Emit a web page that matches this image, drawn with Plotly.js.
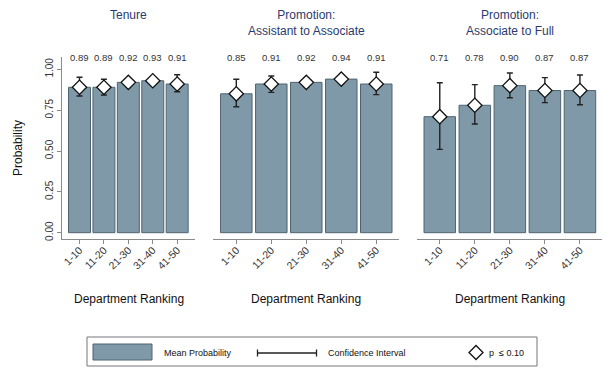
<!DOCTYPE html>
<html><head><meta charset="utf-8">
<script src="https://cdn.plot.ly/plotly-3.0.1.min.js"></script>
<style>html,body{margin:0;padding:0;background:#fff}#chart{width:613px;height:375px}</style>
</head><body><div id="chart"></div>
<script>
const categories = ['1-10','11-20','21-30','31-40','41-50'];
const panelTitles = ['Tenure','Promotion:<br>Assistant to Associate','Promotion:<br>Associate to Full'];

const tenureMean = [0.89, 0.89, 0.92, 0.93, 0.91];
const tenureHi   = [0.951, 0.939, 0.94, 0.95, 0.967];
const tenureLo   = [0.837, 0.843, 0.90, 0.91, 0.863];

const asstMean = [0.85, 0.91, 0.92, 0.94, 0.91];
const asstHi   = [0.939, 0.959, 0.945, 0.962, 0.982];
const asstLo   = [0.771, 0.859, 0.895, 0.918, 0.845];

const fullMean = [0.71, 0.78, 0.90, 0.87, 0.87];
const fullHi   = [0.918, 0.906, 0.977, 0.949, 0.965];
const fullLo   = [0.510, 0.665, 0.826, 0.796, 0.783];

const W = 613, H = 375;
const px = x => x / W;
const py = y => 1 - y / H;

const BAR = '#7f99a8', BAR_LINE = '#4f6470', AX = '#8a8a8a', TXT = '#333333', TITLE = '#2b3a6e';
const FONT = 'Liberation Sans, Arial, sans-serif';

const panels = [
  {mean: tenureMean, hi: tenureHi, lo: tenureLo, xa: 'x',  dom: [62, 195], rng: [-0.717, 4.73]},
  {mean: asstMean,   hi: asstHi,   lo: asstLo,   xa: 'x2', dom: [213, 399], rng: [-0.666, 4.65]},
  {mean: fullMean,   hi: fullHi,   lo: fullLo,   xa: 'x3', dom: [417, 602], rng: [-0.65, 4.63]}
];

const traces = [];
const annotations = [];
const layout = {
  width: W, height: H, margin: {l: 0, r: 0, t: 0, b: 0},
  paper_bgcolor: '#fff', plot_bgcolor: 'rgba(0,0,0,0)',
  showlegend: false, font: {family: FONT, color: TXT},
  yaxis: {
    domain: [py(239), py(57)], range: [-0.0386, 1.0753], anchor: 'x',
    showline: true, linecolor: AX, linewidth: 1, zeroline: false, showgrid: false,
    ticks: 'outside', ticklen: 4, tickcolor: AX,
    tickvals: [0, 0.25, 0.5, 0.75, 1], tickformat: '.2f', tickangle: -90,
    tickfont: {size: 10, color: TXT, family: FONT}
  },
  shapes: [], annotations: annotations
};

panels.forEach((p, i) => {
  const axName = i === 0 ? 'xaxis' : 'xaxis' + (i + 1);
  layout[axName] = {
    domain: [px(p.dom[0]), px(p.dom[1])], range: p.rng, anchor: 'y',
    type: 'category', categoryorder: 'array', categoryarray: categories,
    showline: true, linecolor: AX, linewidth: 1, showgrid: false, zeroline: false,
    ticks: 'outside', ticklen: 4, tickcolor: AX, tickangle: -45, ticklabelstandoff: -4,
    tickfont: {size: 10.5, color: TXT, family: FONT}
  };
  traces.push({
    type: 'bar', x: categories, y: p.mean, xaxis: p.xa, yaxis: 'y', width: 0.9,
    marker: {color: BAR, line: {color: BAR_LINE, width: 1}}, hoverinfo: 'skip'
  });
  traces.push({
    type: 'scatter', mode: 'markers', x: categories, y: p.mean, xaxis: p.xa, yaxis: 'y',
    marker: {symbol: 'diamond', size: 11, color: '#fff', line: {color: '#111', width: 1.3}},
    error_y: {type: 'data', symmetric: false,
      array: p.hi.map((h, k) => h - p.mean[k]),
      arrayminus: p.lo.map((l, k) => p.mean[k] - l),
      color: '#222', thickness: 1.4, width: 3},
    hoverinfo: 'skip'
  });
  categories.forEach((c, k) => {
    annotations.push({xref: p.xa, yref: 'paper', x: c, y: py(57), text: p.mean[k].toFixed(2),
      showarrow: false, xanchor: 'center', yanchor: 'middle', font: {size: 9.5, color: TXT}});
  });
  const xd = p.xa + ' domain';
  annotations.push({xref: xd, yref: 'paper', x: 0.5, y: py(6), text: panelTitles[i],
    showarrow: false, xanchor: 'center', yanchor: 'top', font: {size: 12, color: TITLE}});
  annotations.push({xref: xd, yref: 'paper', x: 0.5, y: py(299), text: 'Department Ranking',
    showarrow: false, xanchor: 'center', yanchor: 'middle', font: {size: 12, color: '#111'}});
});

annotations.push({xref: 'paper', yref: 'paper', x: px(18), y: py(148), text: 'Probability',
  textangle: -90, showarrow: false, xanchor: 'center', yanchor: 'middle', font: {size: 12, color: '#111'}});

// legend box
layout.shapes.push({type: 'rect', xref: 'paper', yref: 'paper', x0: px(87), x1: px(537), y0: py(366), y1: py(337),
  line: {color: '#777', width: 1}, fillcolor: '#fff', layer: 'below'});
layout.shapes.push({type: 'rect', xref: 'paper', yref: 'paper', x0: px(93), x1: px(152), y0: py(360), y1: py(344),
  line: {color: BAR_LINE, width: 1}, fillcolor: BAR});
layout.shapes.push({type: 'line', xref: 'paper', yref: 'paper', x0: px(257), x1: px(317), y0: py(353), y1: py(353),
  line: {color: '#222', width: 1.3}});
layout.shapes.push({type: 'line', xref: 'paper', yref: 'paper', x0: px(257.5), x1: px(257.5), y0: py(349.5), y1: py(356.5),
  line: {color: '#222', width: 1.3}});
layout.shapes.push({type: 'line', xref: 'paper', yref: 'paper', x0: px(316.5), x1: px(316.5), y0: py(349.5), y1: py(356.5),
  line: {color: '#222', width: 1.3}});
const dx = 476, dy = 352.5, r = 7;
layout.shapes.push({type: 'path', xref: 'paper', yref: 'paper',
  path: `M ${px(dx)} ${py(dy - r)} L ${px(dx + r)} ${py(dy)} L ${px(dx)} ${py(dy + r)} L ${px(dx - r)} ${py(dy)} Z`,
  line: {color: '#111', width: 1.3}, fillcolor: '#fff'});
annotations.push({xref: 'paper', yref: 'paper', x: px(162), y: py(352.5), text: 'Mean Probability',
  showarrow: false, xanchor: 'left', yanchor: 'middle', font: {size: 9, color: '#111'}});
annotations.push({xref: 'paper', yref: 'paper', x: px(326), y: py(352.5), text: 'Confidence Interval',
  showarrow: false, xanchor: 'left', yanchor: 'middle', font: {size: 9, color: '#111'}});
annotations.push({xref: 'paper', yref: 'paper', x: px(487), y: py(352.5), text: 'p  \u2264 0.10',
  showarrow: false, xanchor: 'left', yanchor: 'middle', font: {size: 9, color: '#111'}});

Plotly.newPlot('chart', traces, layout, {staticPlot: true, displayModeBar: false});
</script>
</body></html>
